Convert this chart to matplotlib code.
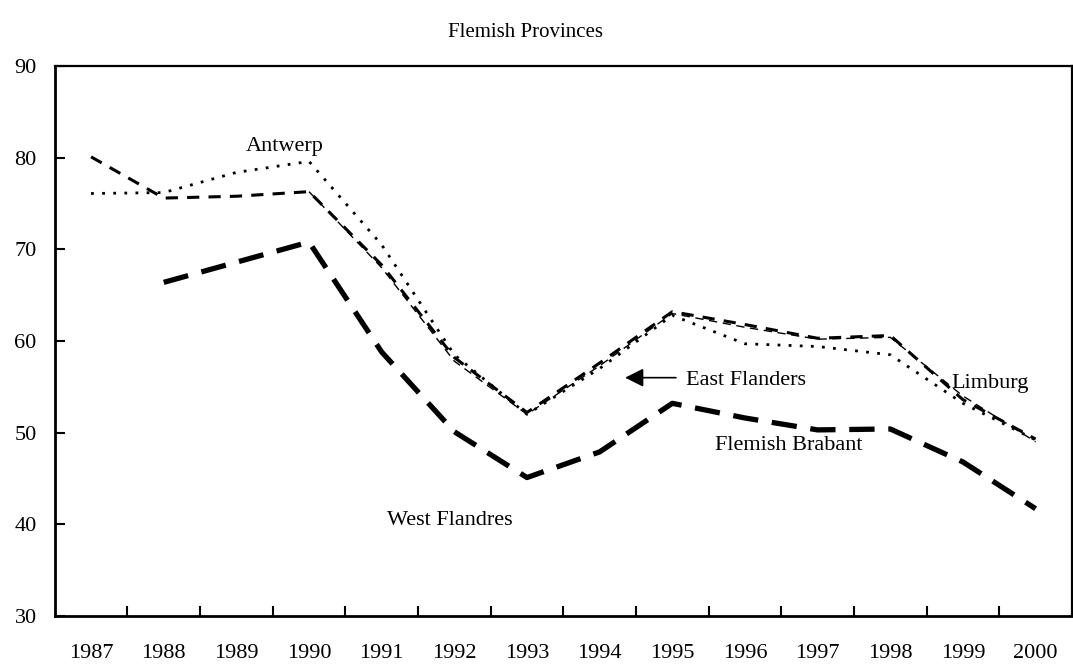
import numpy as np
import matplotlib
matplotlib.use("Agg")
import matplotlib.pyplot as plt

# -----------------------------
# DATA
# -----------------------------
years = ["1987", "1988", "1989", "1990", "1991", "1992", "1993",
         "1994", "1995", "1996", "1997", "1998", "1999", "2000"]

antwerp = [76.1, 76.2, 78.4, 79.6, 70.5, 58.5, 52.0, 57.0, 62.8, 59.7, 59.4, 58.5, 53.2, 49.2]
east_flanders = [80.1, 75.6, 75.8, 76.3, 68.3, 58.2, 52.2, 57.6, 63.2, 61.8, 60.3, 60.6, 53.6, 49.3]
limburg = [np.nan, np.nan, np.nan, 76.3, 68.0, 57.8, 52.0, 57.3, 63.0, 61.5, 60.2, 60.4, 54.0, 49.0]
west_flanders = [np.nan, 66.4, 68.6, 70.8, 58.8, 50.1, 45.1, 47.9, 53.2, 51.6, 50.3, 50.4, 46.8, 41.7]

# -----------------------------
# FIGURE
# -----------------------------
plt.rcParams["font.family"] = ["Liberation Serif", "DejaVu Serif"]

fig = plt.figure(figsize=(10.73, 6.68), dpi=100)
ax = fig.add_axes([0.051, 0.078, 0.948, 0.823])

x = np.arange(len(years))

ax.plot(x, antwerp, color="black", lw=2.0, linestyle=(0, (1.0, 3.0)))
ax.plot(x, east_flanders, color="black", lw=2.2, linestyle=(0, (4.0, 3.0)))
ax.plot(x, limburg, color="black", lw=1.0, linestyle=(0, (6.0, 4.0)))
ax.plot(x, west_flanders, color="black", lw=3.8, linestyle=(0, (4.8, 2.6)))

# labels on the lines
ax.text(2.66, 81.2, "Antwerp", fontsize=16, ha="center", va="center")
ax.text(8.19, 55.65, "East Flanders", fontsize=16, ha="left", va="center")
ax.annotate("", xy=(7.35, 56.0), xytext=(8.05, 56.0),
            arrowprops=dict(arrowstyle="-|>", color="black", lw=1.2,
                            mutation_scale=28, shrinkA=0, shrinkB=0))
ax.text(11.84, 55.4, "Limburg", fontsize=16, ha="left", va="center")
ax.text(8.59, 48.6, "Flemish Brabant", fontsize=16, ha="left", va="center")
ax.text(4.08, 40.4, "West Flandres", fontsize=16, ha="left", va="center")

fig.text(0.49, 0.951, "Flemish Provinces", fontsize=15, ha="center", va="center")

# -----------------------------
# AXES
# -----------------------------
ax.set_xlim(-0.5, len(years) - 0.5)
ax.set_ylim(30, 90)
ax.set_yticks(range(30, 91, 10))

# tick marks sit between the years, labels sit under them
ax.set_xticks(x[:-1] + 0.5)
ax.set_xticklabels([])
ax.set_xticks(x, minor=True)
ax.set_xticklabels(years, minor=True)
ax.tick_params(axis="x", which="major", direction="in", length=7, width=1.5)
ax.tick_params(axis="x", which="minor", length=0, pad=20, labelsize=16)
ax.tick_params(axis="y", direction="in", length=7, width=1.5, pad=13, labelsize=16)

for side in ["left", "bottom"]:
    ax.spines[side].set_linewidth(2.0)
for side in ["top", "right"]:
    ax.spines[side].set_linewidth(1.6)

plt.savefig("out.png", dpi=100)
plt.close()
